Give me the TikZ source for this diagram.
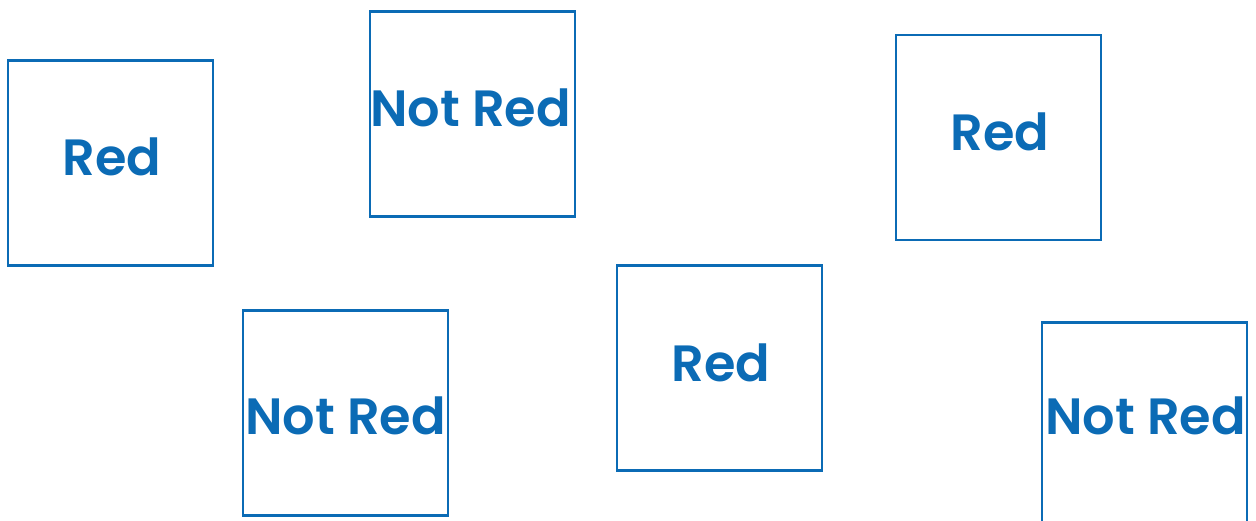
\documentclass[tikz,border=0pt]{standalone}
\usepackage{fontspec}
\setmainfont{Poppins}[BoldFont={* SemiBold}]
\definecolor{boxblue}{HTML}{0B6BB5}
\tikzset{
  sq/.style={draw=boxblue, line width=2.2pt, minimum width=205pt, minimum height=205pt, inner sep=0pt},
  lbl/.style={text=boxblue, font=\fontsize{51}{51}\selectfont\bfseries, inner sep=0pt}
}
\begin{document}
\begin{tikzpicture}[x=1pt,y=-1pt]
\useasboundingbox (0,0) rectangle (1256,521);
\node[sq] (b1) at (110.5,163) {};
\node[sq] (b2) at (472.5,114) {};
\node[sq] (b3) at (998.5,137.5) {};
\node[sq] (b4) at (345.5,413) {};
\node[sq] (b5) at (719.5,368) {};
\node[sq] (b6) at (1144.5,425) {};
\node[lbl] (t1) at (112,157) {Red};
\node[lbl] (t2) at (470.5,108) {Not Red};
\node[lbl] (t3) at (1000,131.5) {Red};
\node[lbl] (t4) at (345.5,415.5) {Not Red};
\node[lbl] (t5) at (721,362.5) {Red};
\node[lbl] (t6) at (1145.5,416) {Not Red};
\end{tikzpicture}
\end{document}
